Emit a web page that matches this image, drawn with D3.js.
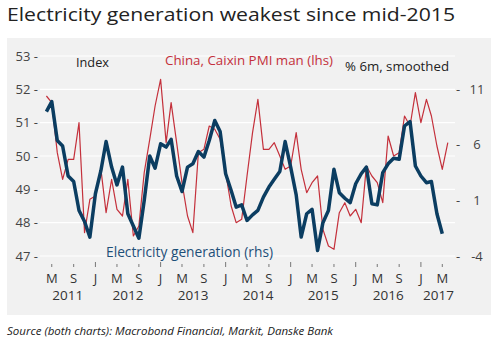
<!DOCTYPE html>
<html>
<head>
<meta charset="utf-8">
<script src="https://cdn.jsdelivr.net/npm/d3@7"></script>
<style>
  body { margin: 0; background: #fff; }
  svg text { font-family: "Open Sans", Roboto, sans-serif; }
</style>
</head>
<body>
<svg width="500" height="342"></svg>
<script>
// monthly observations, Apr 2011 onwards
var firstMonth = new Date(2011, 3, 1);

// China Caixin manufacturing PMI (index, left axis), Apr 2011 - Jun 2017
var pmi = [
  51.8, 51.6, 50.1, 49.3, 49.9, 49.9, 51.0, 47.7, 48.7,
  48.8, 49.6, 48.3, 49.3, 48.4, 48.2, 49.3, 47.6, 47.9, 49.5, 50.5, 51.5,
  52.3, 50.4, 51.6, 50.4, 49.2, 48.2, 47.7, 50.1, 50.2, 50.9, 50.8, 50.5,
  49.5, 48.5, 48.0, 48.1, 49.4, 50.7, 51.7, 50.2, 50.2, 50.4, 50.0, 49.6,
  49.7, 50.7, 49.6, 48.9, 49.2, 49.4, 47.8, 47.3, 47.2, 48.3, 48.6, 48.2,
  48.4, 48.0, 49.7, 49.4, 49.2, 48.6, 50.6, 50.0, 50.1, 51.2, 50.9, 51.9,
  51.0, 51.7, 51.2, 50.3, 49.6, 50.4
];

// electricity generation, % 6m smoothed (right axis), Apr 2011 - May 2017
var power = [
  9.0, 9.9, 6.4, 5.9, 3.2, 2.7, 0.1, -0.9, -2.3,
  1.6, 3.7, 6.3, 4.0, 2.4, 4.0, -0.2, -1.3, -2.4, 1.0, 5.0, 3.9,
  6.1, 5.8, 6.5, 3.2, 1.8, 4.0, 4.3, 5.4, 4.9, 6.4, 8.2, 7.2,
  3.4, 1.9, 0.4, 0.6, -0.8, -0.3, 0.1, 1.3, 2.2, 2.9, 3.6, 6.3,
  4.0, 1.5, -2.3, -0.2, 0.2, -3.5, -1.0, 0.1, 3.8, 1.7, 1.2, 0.8,
  2.5, 3.4, 4.0, 0.7, 0.6, 3.5, 4.3, 4.8, 4.7, 7.7, 8.1, 4.1,
  3.2, 2.6, 2.7, -0.2, -2.0
];

var leftTicks = [47, 48, 49, 50, 51, 52, 53];
var rightTicks = [-4, 1, 6, 11];
var years = [2011, 2012, 2013, 2014, 2015, 2016, 2017];

var red = "#c4303b",
    blue = "#0b3d61";

var svg = d3.select("svg");

function monthOf(i) { return d3.timeMonth.offset(firstMonth, i); }

var pmiRows = pmi.map(function(v, i) { return { date: monthOf(i), value: v }; });
var powerRows = power.map(function(v, i) { return { date: monthOf(i), value: v }; });

var x = d3.scaleTime()
    .domain([new Date(2011, 1, 24), new Date(2017, 6, 17)])
    .range([40, 456]);

var yLeft = d3.scaleLinear().domain([47, 53]).range([256, 56]);
var yRight = d3.scaleLinear().domain([-4, 14]).range([256, 56]);

// plain text helper, squeezed/stretched to a given width when asked
function label(px, py, size, color, str, width) {
    var t = svg.append("text")
        .attr("x", px).attr("y", py)
        .attr("font-size", size)
        .attr("fill", color)
        .text(str);
    if (width) t.attr("textLength", width).attr("lengthAdjust", "spacingAndGlyphs");
    return t;
}

// title
label(7, 20.5, 18.5, "#222", "Electricity generation weakest since mid-2015", 448);

// grey panel
svg.append("rect")
    .attr("x", 7).attr("y", 38)
    .attr("width", 484).attr("height", 277)
    .attr("fill", "#f1f1f1");

// gridlines
svg.append("g")
    .selectAll("line")
    .data(leftTicks)
    .enter().append("line")
    .attr("x1", 40).attr("x2", 455)
    .attr("y1", function(d) { return yLeft(d); })
    .attr("y2", function(d) { return yLeft(d); })
    .attr("stroke", "#fff")
    .attr("stroke-width", 1.2);

// left axis labels
svg.append("g")
    .selectAll("text")
    .data(leftTicks)
    .enter().append("text")
    .attr("x", 38)
    .attr("y", function(d) { return yLeft(d) + 4.5; })
    .attr("text-anchor", "end")
    .attr("font-size", 13)
    .attr("fill", "#444")
    .text(function(d) { return d + " -"; });

// right axis labels
var rightAxis = svg.append("g");
rightAxis.selectAll(".dash")
    .data(rightTicks)
    .enter().append("text")
    .attr("class", "dash")
    .attr("x", 456)
    .attr("y", function(d) { return yRight(d) + 4.5; })
    .attr("font-size", 13)
    .attr("fill", "#444")
    .text("-");
rightAxis.selectAll(".num")
    .data(rightTicks)
    .enter().append("text")
    .attr("class", "num")
    .attr("x", 477)
    .attr("y", function(d) { return yRight(d) + 4.5; })
    .attr("text-anchor", "middle")
    .attr("font-size", 13)
    .attr("fill", "#444")
    .text(function(d) { return d; });

// month ticks and letters
var months = x.ticks(d3.timeMonth.every(4));
var xAxis = svg.append("g");
xAxis.selectAll("line")
    .data(months)
    .enter().append("line")
    .attr("x1", function(d) { return x(d); })
    .attr("x2", function(d) { return x(d); })
    .attr("y1", function(d) { return d.getMonth() === 0 ? 262 : 264; })
    .attr("y2", 267)
    .attr("stroke", "#777")
    .attr("stroke-width", 1);
xAxis.selectAll("text")
    .data(months)
    .enter().append("text")
    .attr("x", function(d) { return x(d); })
    .attr("y", 283)
    .attr("text-anchor", "middle")
    .attr("font-size", 13)
    .attr("fill", "#333")
    .text(function(d) { return d3.timeFormat("%b")(d)[0]; });

// year labels centred on the visible part of each year
var xd = x.domain();
xAxis.selectAll(".year")
    .data(years)
    .enter().append("text")
    .attr("class", "year")
    .attr("x", function(d) {
        var a = Math.max(+new Date(d, 0, 1), +xd[0]),
            b = Math.min(+new Date(d + 1, 0, 1), +xd[1]);
        return (x(a) + x(b)) / 2;
    })
    .attr("y", 300)
    .attr("text-anchor", "middle")
    .attr("font-size", 13.5)
    .attr("fill", "#333")
    .text(function(d) { return d; });

// series
var pmiLine = d3.line()
    .x(function(d) { return x(d.date); })
    .y(function(d) { return yLeft(d.value); });

var powerLine = d3.line()
    .x(function(d) { return x(d.date); })
    .y(function(d) { return yRight(d.value); });

svg.append("path")
    .datum(pmiRows)
    .attr("d", pmiLine)
    .attr("fill", "none")
    .attr("stroke", red)
    .attr("stroke-width", 1.2)
    .attr("stroke-linejoin", "round");

svg.append("path")
    .datum(powerRows)
    .attr("d", powerLine)
    .attr("fill", "none")
    .attr("stroke", blue)
    .attr("stroke-width", 3.5)
    .attr("stroke-linejoin", "round");

// in-chart labels
label(76, 67, 13, "#222", "Index", 33);
label(165, 65, 13, red, "China, Caixin PMI man (lhs)", 168);
label(345, 71, 13.5, "#222", "% 6m, smoothed", 104);
label(106, 257, 14, "#1d4f78", "Electricity generation (rhs)", 167);

// source
label(7, 335, 10.5, "#222", "Source (both charts): Macrobond Financial, Markit, Danske Bank", 326)
    .attr("font-style", "italic");
</script>
</body>
</html>
